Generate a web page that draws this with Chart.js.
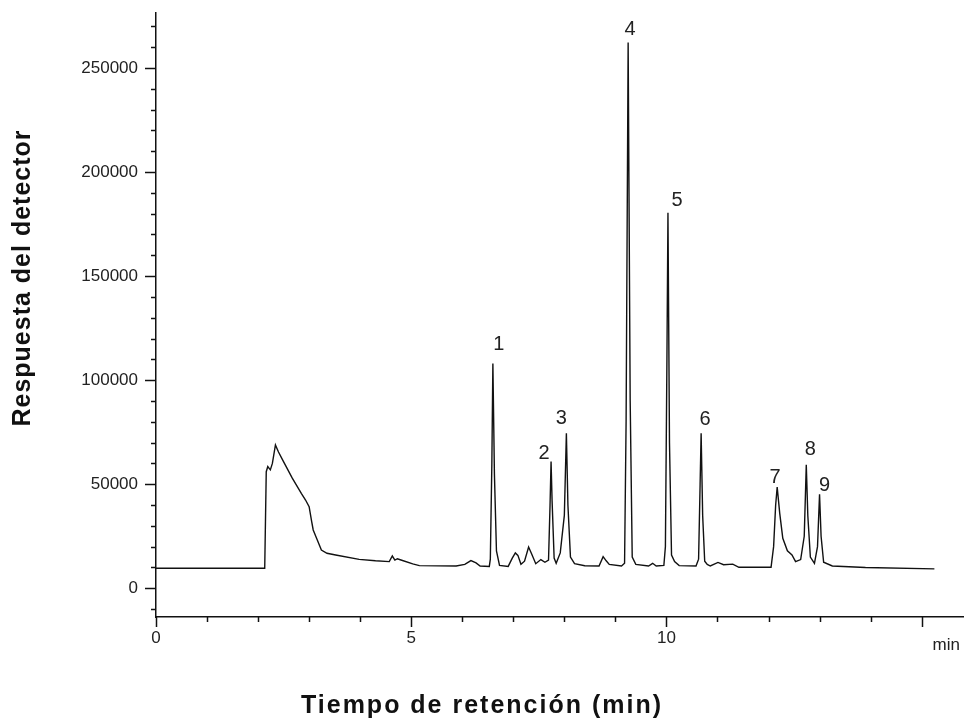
<!DOCTYPE html>
<html>
<head>
<meta charset="utf-8">
<script src="https://cdn.jsdelivr.net/npm/chart.js@4.4.1/dist/chart.umd.min.js"></script>
<style>
  html, body { margin: 0; padding: 0; background: #fff; }
</style>
</head>
<body>
<canvas id="chromChart" width="964" height="720"></canvas>
<script>
// retention time (min) and detector response
const times = [
  0, 2.13, 2.16, 2.19, 2.24, 2.28, 2.34, 2.40, 2.48, 2.67, 2.85, 2.93, 3.00, 3.05, 3.08, 3.16, 3.24, 3.35, 3.52, 3.98,
  4.30, 4.57, 4.63, 4.68, 4.73, 4.80, 5.03, 5.16, 5.88, 6.05, 6.17, 6.27, 6.35, 6.53,
  6.55, 6.58, 6.60, 6.63, 6.67, 6.73, 6.90, 6.98, 7.04, 7.09, 7.15, 7.22, 7.30, 7.36, 7.44, 7.54, 7.62,
  7.69, 7.72, 7.74, 7.76, 7.80, 7.84, 7.92, 8.00, 8.04, 8.07, 8.12, 8.20, 8.40, 8.68, 8.76, 8.82, 8.88, 9.12,
  9.18, 9.21, 9.25, 9.29, 9.33, 9.40, 9.65, 9.73, 9.80, 9.95,
  9.98, 10.01, 10.03, 10.06, 10.10, 10.16, 10.25, 10.58,
  10.63, 10.66, 10.68, 10.71, 10.75, 10.80, 10.86, 11.01, 11.12, 11.30, 11.42, 12.05,
  12.10, 12.14, 12.17, 12.22, 12.28, 12.37, 12.46, 12.53, 12.63,
  12.70, 12.74, 12.77, 12.82, 12.90, 12.96, 13.00, 13.03, 13.08, 13.25, 13.90, 15.25
];
const signal = [
  9600, 9600, 56000, 58500, 56900, 60000, 68900, 65500, 61700, 52900, 45500, 42400, 39200, 32000, 28000, 23200, 18400, 16800, 16000, 13900,
  13200, 12800, 15500, 13500, 14200, 13600, 11700, 10900, 10700, 11500, 13300, 12200, 10700, 10500,
  14000, 60000, 108000, 55000, 18000, 11000, 10500, 14500, 17000, 15800, 11500, 13000, 19800, 16500, 11800, 13800, 12500,
  13500, 40000, 60900, 42000, 14500, 12000, 17000, 35000, 74500, 40000, 15000, 11800, 10800, 10700, 15200, 13200, 11500, 10700,
  12000, 80000, 262200, 90000, 15000, 11500, 10700, 12000, 10700, 11000,
  20000, 110000, 180400, 70000, 16000, 12800, 10900, 10700,
  14000, 50000, 74500, 35000, 13000, 11500, 10700, 12400, 11300, 11600, 10100, 10100,
  20000, 40000, 48600, 36000, 24000, 18000, 16000, 12800, 13800,
  25000, 59300, 35000, 15000, 12000, 20000, 45200, 25000, 12500, 10700, 10000, 9300
];

// numbered peaks
const peakNames = ["1", "2", "3", "4", "5", "6", "7", "8", "9"];
const peakTimes = [6.60, 7.74, 8.04, 9.25, 10.03, 10.68, 12.17, 12.74, 13.00];
const peakTops = [108000, 60900, 74500, 262200, 180400, 74500, 48600, 59300, 45200];

// axis ticks (every one gets a mark, only some get a label)
const xTicks = [0, 1, 2, 3, 4, 5, 6, 7, 8, 9, 10, 11, 12, 13, 14, 15];
const xLabelled = [0, 5, 10];
const yTicks = [-10000, 0, 10000, 20000, 30000, 40000, 50000, 60000, 70000, 80000, 90000, 100000,
  110000, 120000, 130000, 140000, 150000, 160000, 170000, 180000, 190000, 200000,
  210000, 220000, 230000, 240000, 250000, 260000, 270000];
const yLabelled = [0, 50000, 100000, 150000, 200000, 250000];

const FONT = "'Liberation Sans', Arial, sans-serif";

// nudges for the peak numbers, in pixels from the peak tip
const peakNudge = [[6, -19], [-7, -8], [-5, -15], [2, -13], [9, -12], [4, -14], [-2, -10], [4, -15], [5, -9]];

const decor = {
  id: "decor",
  afterDraw(chart) {
    const { ctx, chartArea: a, scales: { x, y } } = chart;
    ctx.save();
    ctx.strokeStyle = "#111";
    ctx.lineWidth = 1.5;

    // y ticks: long where labelled, short otherwise
    y.ticks.forEach(t => {
      const py = Math.round(y.getPixelForValue(t.value)) + 0.5;
      const len = yLabelled.includes(t.value) ? 11 : 5;
      ctx.beginPath();
      ctx.moveTo(a.left - len, py);
      ctx.lineTo(a.left, py);
      ctx.stroke();
    });

    // x ticks hang below the axis
    x.ticks.forEach(t => {
      const px = Math.round(x.getPixelForValue(t.value)) + 0.5;
      const len = t.value % 5 === 0 ? 10 : 5;
      ctx.beginPath();
      ctx.moveTo(px, a.bottom);
      ctx.lineTo(px, a.bottom + len);
      ctx.stroke();
    });

    // peak numbers
    ctx.fillStyle = "#222";
    ctx.font = "20px " + FONT;
    ctx.textAlign = "center";
    ctx.textBaseline = "middle";
    peakNames.forEach((name, i) => {
      const px = x.getPixelForValue(peakTimes[i]) + peakNudge[i][0];
      const py = y.getPixelForValue(peakTops[i]) + peakNudge[i][1];
      ctx.fillText(name, px, py);
    });

    // unit at the end of the x axis
    ctx.font = "17px " + FONT;
    ctx.textAlign = "right";
    ctx.fillText("min", a.right - 4, a.bottom + 28);

    // axis titles
    ctx.fillStyle = "#111";
    ctx.font = "bold 25px " + FONT;
    ctx.textAlign = "center";
    ctx.letterSpacing = "2px";
    ctx.fillText("Tiempo de retención (min)", chart.width / 2, 706);

    ctx.letterSpacing = "1px";
    ctx.translate(23, 278);
    ctx.rotate(-Math.PI / 2);
    ctx.fillText("Respuesta del detector", 0, 0);
    ctx.restore();
  }
};

new Chart(document.getElementById("chromChart"), {
  type: "line",
  data: {
    datasets: [{
      data: times.map((t, i) => ({ x: t, y: signal[i] })),
      borderColor: "#111",
      borderWidth: 1.4,
      pointRadius: 0,
      tension: 0,
      fill: false
    }]
  },
  options: {
    responsive: false,
    animation: false,
    layout: { padding: { top: 13, right: 0, left: 0, bottom: 0 } },
    plugins: {
      legend: { display: false },
      tooltip: { enabled: false }
    },
    scales: {
      x: {
        type: "linear",
        min: 0,
        max: 15.83,
        grid: { display: false, drawTicks: false },
        border: { display: true, color: "#111", width: 1.5 },
        afterBuildTicks: s => { s.ticks = xTicks.map(v => ({ value: v })); },
        ticks: {
          autoSkip: false,
          maxRotation: 0,
          padding: 11,
          color: "#222",
          font: { family: FONT, size: 17 },
          callback: v => xLabelled.includes(v) ? String(v) : ""
        },
        afterFit: s => {
          s.height = 103;
          s.paddingLeft = 0;
          s.paddingRight = 0;
        }
      },
      y: {
        min: -13800,
        max: 276400,
        grid: { display: false, drawTicks: false },
        border: { display: true, color: "#111", width: 1.5 },
        afterBuildTicks: s => { s.ticks = yTicks.map(v => ({ value: v })); },
        ticks: {
          autoSkip: false,
          padding: 18,
          color: "#222",
          font: { family: FONT, size: 17 },
          callback: v => yLabelled.includes(v) ? String(v) : ""
        },
        afterFit: s => {
          s.width = 156;
          s.paddingTop = 0;
          s.paddingBottom = 0;
        }
      }
    }
  },
  plugins: [decor]
});
</script>
</body>
</html>
